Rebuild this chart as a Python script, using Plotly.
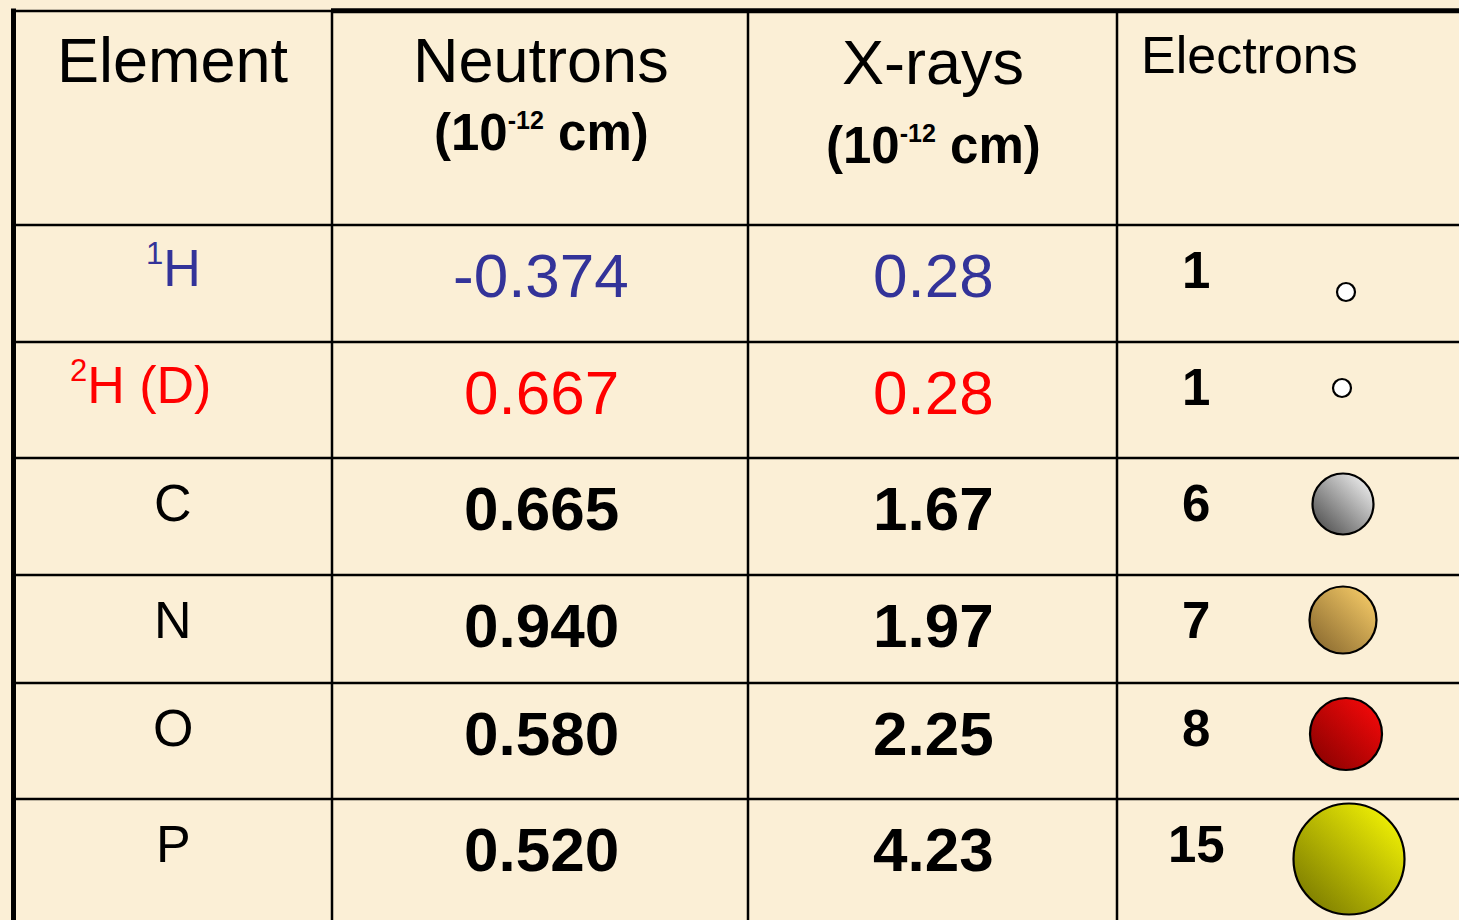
import plotly.graph_objects as go

# table data
elements = ['<sup><span style="font-size:31px">1</span></sup>H',
            '<sup><span style="font-size:31px">2</span></sup>H (D)',
            "C", "N", "O", "P"]
neutron_b = [-0.374, 0.667, 0.665, 0.940, 0.580, 0.520]
xray_f = [0.28, 0.28, 1.67, 1.97, 2.25, 4.23]
electrons = [1, 1, 6, 7, 8, 15]

# styling per row
row_colors = ["#333399", "#ff0000", "black", "black", "black", "black"]
row_bold = [False, False, True, True, True, True]
elem_x = [173, 140, 173, 173, 173, 173]
ball_size = [18, 18, 61, 67, 72, 111]
ball_light = ["#ffffff", "#ffffff", "#ffffff", "#ffd36c", "#ff0a0a", "#ffff05"]
ball_dark = ["#ffffff", "#ffffff", "#404040", "#80612a", "#800000", "#6e6e00"]
ball_dx = [1346, 1342, 1343, 1343, 1346, 1349]
ball_dy = [67, 46, 46, 45, 51, 60]

W, H = 1459, 920
BG = "#fbefd6"
FONT = "Arial, Liberation Sans, sans-serif"

col_x = [14, 332, 748, 1117, W]
row_y = [11, 225, 342, 458, 575, 683, 799, H]

fig = go.Figure()

# balls: horizontal + vertical gradient blended -> diagonal shading
bx = [ball_dx[i] for i in range(len(electrons))]
by = [row_y[i + 1] + ball_dy[i] for i in range(len(electrons))]
fig.add_trace(go.Scatter(
    x=bx, y=by, mode="markers", hoverinfo="skip",
    marker=dict(size=ball_size, color=ball_dark, opacity=1, line=dict(width=0),
                gradient=dict(type="horizontal", color=ball_light))))
fig.add_trace(go.Scatter(
    x=bx, y=by, mode="markers", hoverinfo="skip",
    marker=dict(size=ball_size, color=ball_light, opacity=0.5, line=dict(width=0),
                gradient=dict(type="vertical", color=ball_dark))))
fig.add_trace(go.Scatter(
    x=bx, y=by, mode="markers", hoverinfo="skip",
    marker=dict(size=ball_size, color="rgba(0,0,0,0)", opacity=1,
                line=dict(color="black", width=2.2))))

shapes = []
# horizontal rules
for y in row_y[1:-1]:
    shapes.append(dict(type="line", x0=col_x[0], x1=W, y0=y, y1=y,
                       line=dict(color="black", width=2.5)))
# vertical rules
for x in col_x[1:-1]:
    shapes.append(dict(type="line", x0=x, x1=x, y0=row_y[0], y1=H,
                       line=dict(color="black", width=2.5)))
# outer border pieces
shapes.append(dict(type="line", x0=col_x[0], x1=col_x[1], y0=11, y1=11,
                   line=dict(color="black", width=2.5)))
shapes.append(dict(type="line", x0=col_x[1] - 1, x1=W, y0=10.8, y1=10.8,
                   line=dict(color="black", width=5)))
shapes.append(dict(type="line", x0=13.5, x1=13.5, y0=8.5, y1=H,
                   line=dict(color="black", width=5)))

ann = []


def txt(x, y, s, size, color="black", xanchor="center"):
    ann.append(dict(x=x, y=y, text=s, showarrow=False, xanchor=xanchor,
                    yanchor="middle",
                    font=dict(family=FONT, size=size, color=color)))


sup = '(10<sup><span style="font-size:25px">-12</span></sup> cm)'
txt(173, 60, "Element", 63)
txt(541, 60, "Neutrons", 63)
txt(541, 132, "<b>" + sup + "</b>", 51)
txt(933, 62, "X-rays", 63)
txt(933, 145, "<b>" + sup + "</b>", 51)
txt(1139, 55, "Electrons", 52, xanchor="left")

for i in range(len(elements)):
    top = row_y[i + 1]
    c = row_colors[i]
    b = (lambda s: "<b>" + s + "</b>") if row_bold[i] else (lambda s: s)
    lift = 4 if "<sup>" in elements[i] else 0
    txt(elem_x[i], top + 45 - lift, elements[i], 52, c)
    txt(541, top + 50, b(f"{neutron_b[i]:.3f}"), 62, c)
    txt(933, top + 50, b(f"{xray_f[i]:.2f}"), 62, c)
    txt(1196, top + 45, f"<b>{electrons[i]}</b>", 51)

axis = dict(visible=False, showgrid=False, zeroline=False, fixedrange=True)
fig.update_layout(
    width=W, height=H,
    margin=dict(l=0, r=0, t=0, b=0),
    paper_bgcolor=BG, plot_bgcolor=BG,
    showlegend=False,
    xaxis=dict(range=[0, W], **axis),
    yaxis=dict(range=[H, 0], **axis),
    shapes=shapes,
    annotations=ann,
)
fig.write_html("out.html", config={"displayModeBar": False},
               post_script="document.body.style.margin='0px';"
                           "document.body.style.overflow='hidden';")
